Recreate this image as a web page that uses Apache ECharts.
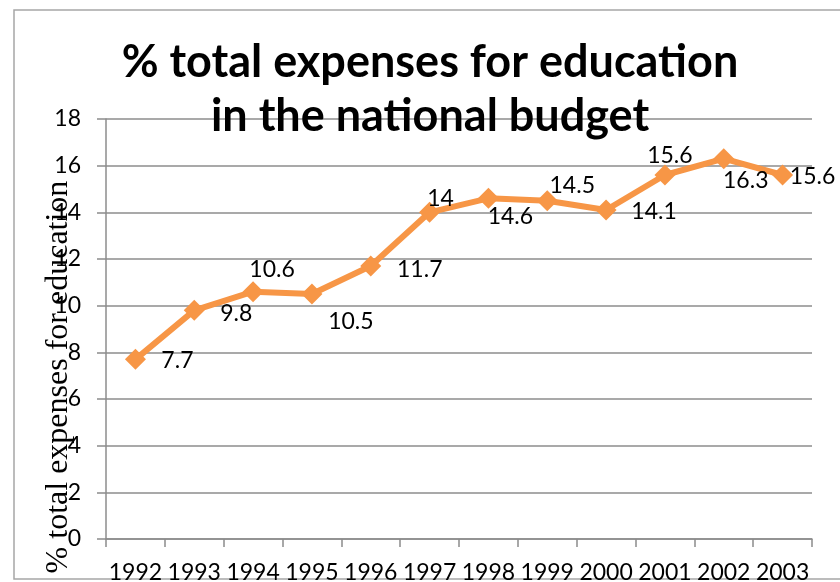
<!DOCTYPE html>
<html>
<head>
<meta charset="utf-8">
<script src="https://cdn.jsdelivr.net/npm/echarts@6/dist/echarts.min.js"></script>
<style>
  html, body { margin: 0; padding: 0; background: #ffffff; }
  #chart { width: 840px; height: 582px; }
</style>
</head>
<body>
<div id="chart"></div>
<script>
// Share of the national budget spent on education, by year (%)
const years = ['1992', '1993', '1994', '1995', '1996', '1997', '1998', '1999', '2000', '2001', '2002', '2003'];
const educationShare = [7.7, 9.8, 10.6, 10.5, 11.7, 14, 14.6, 14.5, 14.1, 15.6, 16.3, 15.6];

// Value axis range and step
const yMin = 0;
const yMax = 18;
const yStep = 2;

// Where each value label sits relative to its marker (dx, dy in px)
const labelOffsets = [
  [42, 1], [42, 3], [19, -22], [39, 28], [49, 4], [11, -14],
  [22, 18], [25, -15], [48, 2], [5, -19], [22, 22], [30, 2]
];

const titleLines = ['% total expenses for education', 'in the national budget'];
const yAxisTitle = '% total expenses for education';

const gridGray = '#8c8c8c';
const lineOrange = '#F79646';
const labelFont = 'Lato, "Open Sans", sans-serif';

const chart = echarts.init(document.getElementById('chart'), null, { renderer: 'canvas' });

chart.setOption({
  backgroundColor: '#ffffff',
  animation: false,
  grid: { left: 106, right: 28, top: 119, bottom: 43, containLabel: false, outerBoundsMode: 'none' },
  xAxis: {
    type: 'category',
    data: years,
    boundaryGap: true,
    axisLine: { show: true, lineStyle: { color: gridGray, width: 1.5 } },
    axisTick: { show: true, length: 8, inside: false, lineStyle: { color: gridGray, width: 1.5 } },
    axisLabel: { color: '#000', fontSize: 23, fontFamily: labelFont, margin: 22, interval: 0 },
    splitLine: { show: false }
  },
  yAxis: {
    type: 'value',
    min: yMin,
    max: yMax,
    interval: yStep,
    axisLine: { show: true, lineStyle: { color: gridGray, width: 1.5 } },
    axisTick: { show: true, length: 9, inside: false, lineStyle: { color: gridGray, width: 1.5 } },
    axisLabel: { color: '#000', fontSize: 23, fontFamily: labelFont, margin: 25 },
    splitLine: { show: true, lineStyle: { color: gridGray, width: 1.5 } }
  },
  series: [{
    type: 'line',
    data: educationShare.map((v, i) => ({ value: v, label: { offset: labelOffsets[i] } })),
    symbol: 'diamond',
    symbolSize: 21,
    lineStyle: { color: lineOrange, width: 6 },
    itemStyle: { color: lineOrange },
    label: {
      show: true,
      position: 'inside',
      formatter: '{c}',
      color: '#000',
      fontSize: 23,
      fontFamily: labelFont
    },
    z: 3
  }],
  graphic: [
    {
      type: 'rect',
      z: 0,
      silent: true,
      shape: { x: 14, y: 10, width: 900, height: 569 },
      style: { fill: null, stroke: '#a6a6a6', lineWidth: 1.5 }
    },
    {
      type: 'text',
      z: 10,
      x: 430,
      y: 62,
      style: {
        text: titleLines[0],
        align: 'center',
        verticalAlign: 'middle',
        font: 'bold 45px Lato, "Open Sans", sans-serif',
        fill: '#000'
      }
    },
    {
      type: 'text',
      z: 10,
      x: 430,
      y: 116,
      style: {
        text: titleLines[1],
        align: 'center',
        verticalAlign: 'middle',
        font: 'bold 45px Lato, "Open Sans", sans-serif',
        fill: '#000'
      }
    },
    {
      type: 'text',
      z: 10,
      x: 59,
      y: 377,
      rotation: Math.PI / 2,
      style: {
        text: yAxisTitle,
        align: 'center',
        verticalAlign: 'middle',
        font: '32px "Liberation Serif", "DejaVu Serif", serif',
        fill: '#000'
      }
    }
  ]
});
</script>
</body>
</html>
